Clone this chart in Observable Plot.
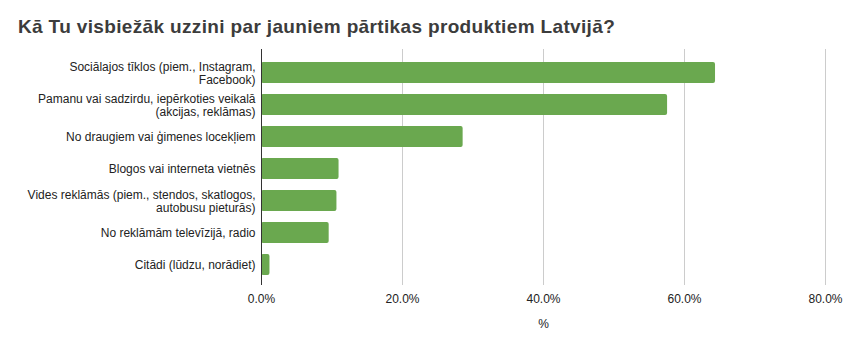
<!DOCTYPE html>
<html><head><meta charset="utf-8">
<script src="https://cdn.jsdelivr.net/npm/d3@7"></script>
<script src="https://cdn.jsdelivr.net/npm/@observablehq/plot@0.6"></script>
<style>
body{margin:0;background:#fff;width:845px;height:351px;overflow:hidden;font-family:"Liberation Sans",Arial,sans-serif;}
#title{height:40px;line-height:40px;padding-top:7px;padding-left:18px;font-weight:bold;font-size:19px;letter-spacing:0.35px;color:#3c3c3c;white-space:nowrap;}
#chart svg{display:block;}
</style></head><body>
<div id="title">Kā Tu visbiežāk uzzini par jauniem pārtikas produktiem Latvijā?</div>
<div id="chart"></div>
<script>
const categories = [
  "Sociālajos tīklos (piem., Instagram,\nFacebook)",
  "Pamanu vai sadzirdu, iepērkoties veikalā\n(akcijas, reklāmas)",
  "No draugiem vai ģimenes locekļiem",
  "Blogos vai interneta vietnēs",
  "Vides reklāmās (piem., stendos, skatlogos,\nautobusu pieturās)",
  "No reklāmām televīzijā, radio",
  "Citādi (lūdzu, norādiet)"
];
const values = [64.4, 57.6, 28.6, 11.0, 10.7, 9.6, 1.2];
const xTicks = [0, 20, 40, 60, 80];
const axisTitle = "%";

const data = categories.map((c, i) => ({category: c, value: values[i] / 100}));

const chart = Plot.plot({
  width: 845,
  height: 304,
  marginTop: 2,
  marginBottom: 66,
  marginLeft: 261,
  marginRight: 20,
  style: {fontSize: "12px", fontFamily: "'Liberation Sans', Arial, sans-serif", color: "#222", background: "#fff"},
  x: {domain: [0, 0.8], axis: null},
  y: {domain: categories, paddingInner: 0.35, paddingOuter: 0.343, align: 0.55, axis: null},
  marks: [
    Plot.gridX(xTicks.map(d => d / 100), {stroke: "#cccccc", strokeOpacity: 1}),
    Plot.barX(data, {x: "value", y: "category", fill: "#6aa84f", rx: 2}),
    Plot.ruleX([0], {stroke: "#333333"}),
    Plot.axisX(xTicks.map(d => d / 100), {tickSize: 0, tickPadding: 9, tickFormat: d => (d * 100).toFixed(1) + "%", label: null, fill: "#222", fontSize: 12}),
    Plot.text(categories, {y: d => d, text: d => d, frameAnchor: "left", textAnchor: "end", dx: -6, fill: "#222", fontSize: 12, lineHeight: 1.1}),
    Plot.text([axisTitle], {frameAnchor: "bottom", dy: 42, fill: "#222", fontSize: 12})
  ]
});
document.getElementById("chart").appendChild(chart);
</script>
</body></html>
